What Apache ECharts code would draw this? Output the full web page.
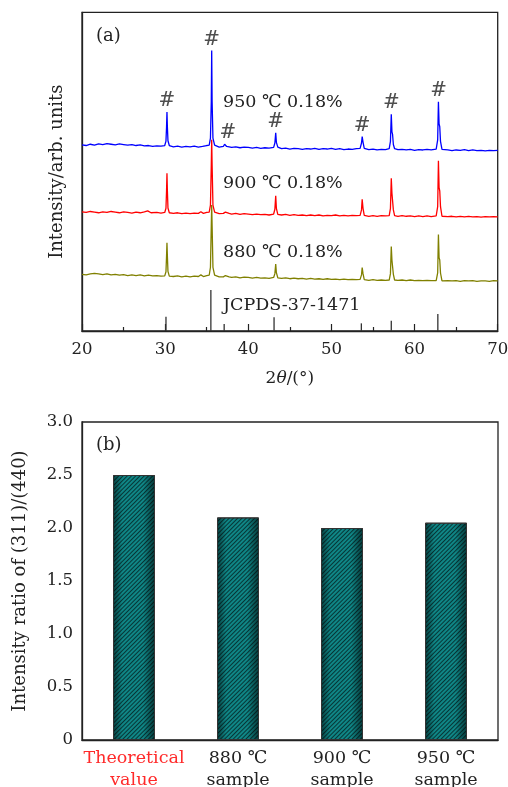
<!DOCTYPE html>
<html>
<head>
<meta charset="utf-8">
<script src="https://cdn.jsdelivr.net/npm/echarts@6/dist/echarts.min.js"></script>
<style>
  html, body { margin: 0; padding: 0; background: #fff; }
  #chart { width: 508px; height: 787px; }
</style>
</head>
<body>
<div id="chart"></div>
<script>
// ---- (a) XRD patterns: [2θ (°), intensity (arb., stacked offset included)] ----
const pattern950 = [
  [20,584],[20.5,582],[21,586],[21.5,583],[22,587],[22.5,585],[23,588],[23.5,586],[24,584],[24.5,587],
  [25,585],[25.5,583],[26,585],[26.5,582],[27,584],[27.5,581],[28,582],[28.5,579],[29,581],[29.5,580],
  [29.95,582],[30.1,596],[30.17,640],[30.22,687],[30.27,640],[30.34,597],[30.5,582],
  [31,578],[31.5,580],[32,577],[32.5,579],[33,578],[33.5,580],[34,577],[34.5,579],[35,582],
  [35.3,583],[35.45,605],[35.55,720],[35.6,880],[35.65,720],[35.75,605],[35.95,583],
  [36.5,577],[37.0,579],[37.15,586],[37.25,584],[37.4,579],[37.7,578],[38,576],[38.5,578],[39,575],[39.5,577],
  [40,576],[40.5,574],[41,576],[41.5,573],[42,575],[42.5,574],
  [43.05,576],[43.2,590],[43.3,622],[43.38,592],[43.55,577],
  [44,572],[44.5,574],[45,571],[45.5,573],[46,572],[46.5,570],[47,572],[47.5,571],[48,573],[48.5,570],
  [49,572],[49.5,571],[50,573],[50.5,570],[51,572],[51.5,569],[52,571],[52.5,570],[53,572],
  [53.45,573],[53.62,590],[53.7,610],[53.8,593],[53.95,573],
  [54.5,569],[55,571],[55.5,568],[56,570],[56.5,569],
  [56.95,572],[57.1,595],[57.2,680],[57.28,625],[57.35,618],[57.45,585],[57.6,572],
  [58,569],[58.5,570],[59,568],[59.5,570],[60,567],[60.5,569],[61,568],[61.5,570],[62,568],
  [62.6,571],[62.78,600],[62.87,719],[62.95,650],[63.03,641],[63.12,595],[63.3,570],
  [64,568],[64.5,566],[65,568],[65.5,567],[66,569],[66.5,566],[67,568],[67.5,566],[68,567],[68.5,565],
  [69,567],[69.5,566],[70,567]
];
const pattern900 = [
  [20,374],[20.5,372],[21,375],[21.5,373],[22,371],[22.5,374],[23,372],[23.5,375],[24,373],[24.5,371],
  [25,374],[25.5,372],[26,370],[26.5,373],[27,371],[27.5,374],[27.9,377],[28.3,371],[28.5,369],[29,372],[29.5,370],
  [29.95,372],[30.1,385],[30.17,440],[30.22,495],[30.27,440],[30.34,386],[30.5,371],
  [31,369],[31.5,371],[32,368],[32.5,370],[33,368],[33.5,370],[34,369],[34.3,374],[34.6,369],[35,372],
  [35.3,373],[35.45,395],[35.55,520],[35.6,600],[35.65,520],[35.75,395],[35.95,373],
  [36.5,368],[37.0,369],[37.15,375],[37.25,373],[37.4,368],[37.7,369],[38,367],[38.5,369],[39,366],[39.5,368],
  [40,367],[40.5,365],[41,367],[41.5,365],[42,366],[42.5,364],
  [43.05,367],[43.2,382],[43.3,424],[43.38,385],[43.55,366],
  [44,364],[44.5,366],[45,363],[45.5,365],[46,363],[46.5,364],[47,362],[47.5,364],[48,362],[48.5,364],
  [49,361],[49.5,363],[50,362],[50.5,364],[51,361],[51.5,363],[52,361],[52.5,363],[53,362],
  [53.45,363],[53.62,380],[53.7,413],[53.8,385],[53.95,363],
  [54.5,360],[55,362],[55.5,360],[56,362],[56.5,361],
  [56.95,362],[57.1,385],[57.2,479],[57.28,432],[57.35,427],[57.45,380],[57.6,362],
  [58,360],[58.5,362],[59,360],[59.5,361],[60,359],[60.5,361],[61,359],[61.5,361],[62,359],
  [62.6,361],[62.78,390],[62.87,534],[62.95,450],[63.03,440],[63.12,390],[63.3,360],
  [64,359],[64.5,360],[65,358],[65.5,360],[66,358],[66.5,360],[67,358],[67.5,359],[68,357],[68.5,359],
  [69,358],[69.5,359],[70,358]
];
const pattern880 = [
  [20,178],[20.5,176],[21,179],[21.5,181],[22,179],[22.5,177],[23,179],[23.5,176],[24,178],[24.5,175],
  [25,177],[25.5,174],[26,176],[26.5,174],[27,176],[27.5,173],[28,175],[28.5,173],[29,174],[29.5,172],
  [29.95,173],[30.1,186],[30.17,235],[30.22,277],[30.27,235],[30.34,187],[30.5,172],
  [31,171],[31.5,173],[32,170],[32.5,172],[33,170],[33.5,172],[34,171],[34.3,176],[34.6,171],[35,174],
  [35.3,175],[35.45,200],[35.55,330],[35.6,395],[35.65,330],[35.75,200],[35.95,175],
  [36.5,170],[37.0,170],[37.15,176],[37.25,174],[37.4,169],[37.7,170],[38,168],[38.5,170],[39,167],[39.5,169],
  [40,168],[40.5,166],[41,168],[41.5,166],[42,167],[42.5,165],
  [43.05,168],[43.2,180],[43.3,210],[43.38,183],[43.55,167],
  [44,165],[44.5,167],[45,164],[45.5,166],[46,164],[46.5,165],[47,163],[47.5,165],[48,163],[48.5,164],
  [49,162],[49.5,164],[50,162],[50.5,163],[51,161],[51.5,163],[52,161],[52.5,162],[53,161],
  [53.45,162],[53.62,176],[53.7,199],[53.8,180],[53.95,161],
  [54.5,159],[55,161],[55.5,159],[56,160],[56.5,159],
  [56.95,160],[57.1,180],[57.2,265],[57.28,222],[57.35,217],[57.45,178],[57.6,160],
  [58,159],[58.5,160],[59,158],[59.5,160],[60,158],[60.5,159],[61,158],[61.5,159],[62,158],
  [62.6,158],[62.78,182],[62.87,303],[62.95,230],[63.03,223],[63.12,182],[63.3,157],
  [64,158],[64.5,157],[65,158],[65.5,156],[66,158],[66.5,157],[67,158],[67.5,156],[68,157],[68.5,157],
  [69,156],[69.5,158],[70,157]
];
// JCPDS-37-1471 reference lines
const refPositions = [30.1, 35.5, 37.1, 43.1, 53.6, 57.2, 62.8];
const refHeights   = [45, 129, 22, 43, 24, 32, 53];
// Peaks flagged with '#'
const flaggedPeaks = [30.2, 35.6, 37.2, 43.3, 53.7, 57.2, 62.9];
const sampleLabels = ['950 ℃ 0.18%', '900 ℃ 0.18%', '880 ℃ 0.18%'];
const refLabel = 'JCPDS-37-1471';
const xTicksA = [20, 30, 40, 50, 60, 70];

// ---- (b) (311)/(440) intensity ratio ----
const ratioCategories = ['Theoretical\nvalue', '880 ℃\nsample', '900 ℃\nsample', '950 ℃\nsample'];
const ratioValues = [2.5, 2.1, 2.0, 2.05];

const serif = "'DejaVu Serif', 'DejaVu Sans', serif";
const ink = '#222';

// '#' marks sit on the apex of the 950 ℃ pattern near each flagged peak
const flagData = flaggedPeaks.map(function (p, i) {
  let best = -Infinity;
  pattern950.forEach(function (pt) { if (Math.abs(pt[0] - p) <= 0.2 && pt[1] > best) best = pt[1]; });
  const item = { value: [p, best] };
  if (i === 2) item.label = { offset: [3, 0] };
  return item;
});

const chart = echarts.init(document.getElementById('chart'), null, { renderer: 'canvas' });

const option = {
  animation: false,
  backgroundColor: '#fff',
  textStyle: { fontFamily: serif, color: ink },
  grid: [
    { left: 82, right: 10.3, top: 12.3, bottom: 456, containLabel: false, outerBoundsMode: 'none',
      show: true, borderColor: ink, borderWidth: 1.3, backgroundColor: 'transparent' },
    { left: 82, right: 10, top: 422, bottom: 47, containLabel: false, outerBoundsMode: 'none',
      show: true, borderColor: ink, borderWidth: 1.3, backgroundColor: 'transparent' }
  ],
  xAxis: [
    {
      gridIndex: 0, type: 'value', min: xTicksA[0], max: xTicksA[xTicksA.length - 1], interval: 10,
      name: '2{i|θ}/(°)', nameLocation: 'middle', nameGap: 39,
      nameTextStyle: { fontFamily: serif, fontSize: 17, color: ink, rich: { i: { fontFamily: serif, fontStyle: 'italic', fontSize: 17, color: ink } } },
      axisLine: { lineStyle: { color: ink, width: 1.3 } },
      axisTick: { inside: true, length: 7, lineStyle: { color: ink, width: 1.2 } },
      minorTick: { show: true, splitNumber: 2, length: 4, lineStyle: { color: ink, width: 1.2 } },
      axisLabel: { fontFamily: serif, fontSize: 16.5, color: ink, margin: 10 },
      splitLine: { show: false }
    },
    {
      gridIndex: 1, type: 'category', data: ratioCategories,
      axisLine: { lineStyle: { color: ink, width: 1.3 } },
      axisTick: { show: false },
      axisLabel: {
        margin: 7, interval: 0, lineHeight: 22,
        formatter: function (v, i) {
          const lines = v.split('\n');
          const key = i === 0 ? 'r' : 'k';
          return lines.map(function (l) { return '{' + key + '|' + l + '}'; }).join('\n');
        },
        rich: {
          r: { fontFamily: serif, fontSize: 17.5, color: '#ff2a2a', lineHeight: 22 },
          k: { fontFamily: serif, fontSize: 17.5, color: ink, lineHeight: 22 }
        }
      }
    }
  ],
  yAxis: [
    {
      gridIndex: 0, type: 'value', min: 0, max: 1000,
      name: 'Intensity/arb. units', nameLocation: 'middle', nameGap: 16,
      nameTextStyle: { fontFamily: serif, fontSize: 18, color: ink },
      axisLine: { show: true, lineStyle: { color: ink, width: 1.3 } },
      axisTick: { show: false }, axisLabel: { show: false }, splitLine: { show: false }
    },
    {
      gridIndex: 1, type: 'value', min: 0, max: 3, interval: 0.5,
      name: 'Intensity ratio of (311)/(440)', nameLocation: 'middle', nameGap: 53,
      nameTextStyle: { fontFamily: serif, fontSize: 18, color: ink },
      axisLine: { show: true, lineStyle: { color: ink, width: 1.3 } },
      axisTick: { inside: true, length: 4, lineStyle: { color: ink, width: 1.2 } },
      axisLabel: { fontFamily: serif, fontSize: 16.5, color: ink, margin: 9,
        formatter: function (v) { return v === 0 ? '0' : v.toFixed(1); } },
      splitLine: { show: false }
    }
  ],
  series: [
    { name: '880', type: 'line', xAxisIndex: 0, yAxisIndex: 0, data: pattern880, showSymbol: false, symbol: 'none',
      lineStyle: { color: '#808000', width: 1.3 }, z: 2 },
    { name: '900', type: 'line', xAxisIndex: 0, yAxisIndex: 0, data: pattern900, showSymbol: false, symbol: 'none',
      lineStyle: { color: '#ff0000', width: 1.3 }, z: 3 },
    { name: '950', type: 'line', xAxisIndex: 0, yAxisIndex: 0, data: pattern950, showSymbol: false, symbol: 'none',
      lineStyle: { color: '#0000ff', width: 1.3 }, z: 4 },
    { name: 'JCPDS', type: 'custom', xAxisIndex: 0, yAxisIndex: 0,
      data: refPositions.map(function (p, i) { return [p, refHeights[i]]; }),
      renderItem: function (params, api) {
        const a = api.coord([api.value(0), 0]);
        const b = api.coord([api.value(0), api.value(1)]);
        return { type: 'line', shape: { x1: a[0], y1: a[1], x2: b[0], y2: b[1] }, style: { stroke: '#333', lineWidth: 1.3 } };
      }, z: 5 },
    { name: 'flags', type: 'scatter', xAxisIndex: 0, yAxisIndex: 0, data: flagData, symbolSize: 0.001,
      itemStyle: { color: 'transparent' },
      label: { show: true, position: 'top', distance: 1, formatter: '#', fontFamily: serif, fontSize: 20, color: ink }, z: 6 },
    { name: 'ratio', type: 'bar', xAxisIndex: 1, yAxisIndex: 1, data: ratioValues, barWidth: 42,
      itemStyle: {
        color: { type: 'linear', x: 0, y: 0, x2: 1, y2: 0, colorStops: [
          { offset: 0, color: '#073e3e' }, { offset: 0.22, color: '#0f8686' },
          { offset: 0.72, color: '#0f8686' }, { offset: 1, color: '#063a3a' } ] },
        borderColor: '#333', borderWidth: 1,
        decal: { symbol: 'rect', symbolSize: 1, dashArrayX: [1, 0], dashArrayY: [1, 1.2], rotation: -Math.PI / 4, color: 'rgba(0,0,0,0.6)' }
      }, z: 2 }
  ],
  graphic: [
    { type: 'text', left: 96, top: 27, style: { text: '(a)', font: '18px ' + serif, fill: ink } },
    { type: 'text', left: 96, top: 436, style: { text: '(b)', font: '18px ' + serif, fill: ink } },
    { type: 'text', left: 223, top: 93, style: { text: sampleLabels[0], font: '17.5px ' + serif, fill: ink } },
    { type: 'text', left: 223, top: 174, style: { text: sampleLabels[1], font: '17.5px ' + serif, fill: ink } },
    { type: 'text', left: 223, top: 243, style: { text: sampleLabels[2], font: '17.5px ' + serif, fill: ink } },
    { type: 'text', left: 223, top: 296, style: { text: refLabel, font: '17.5px ' + serif, fill: ink } }
  ]
};
chart.setOption(option);
</script>
</body>
</html>
